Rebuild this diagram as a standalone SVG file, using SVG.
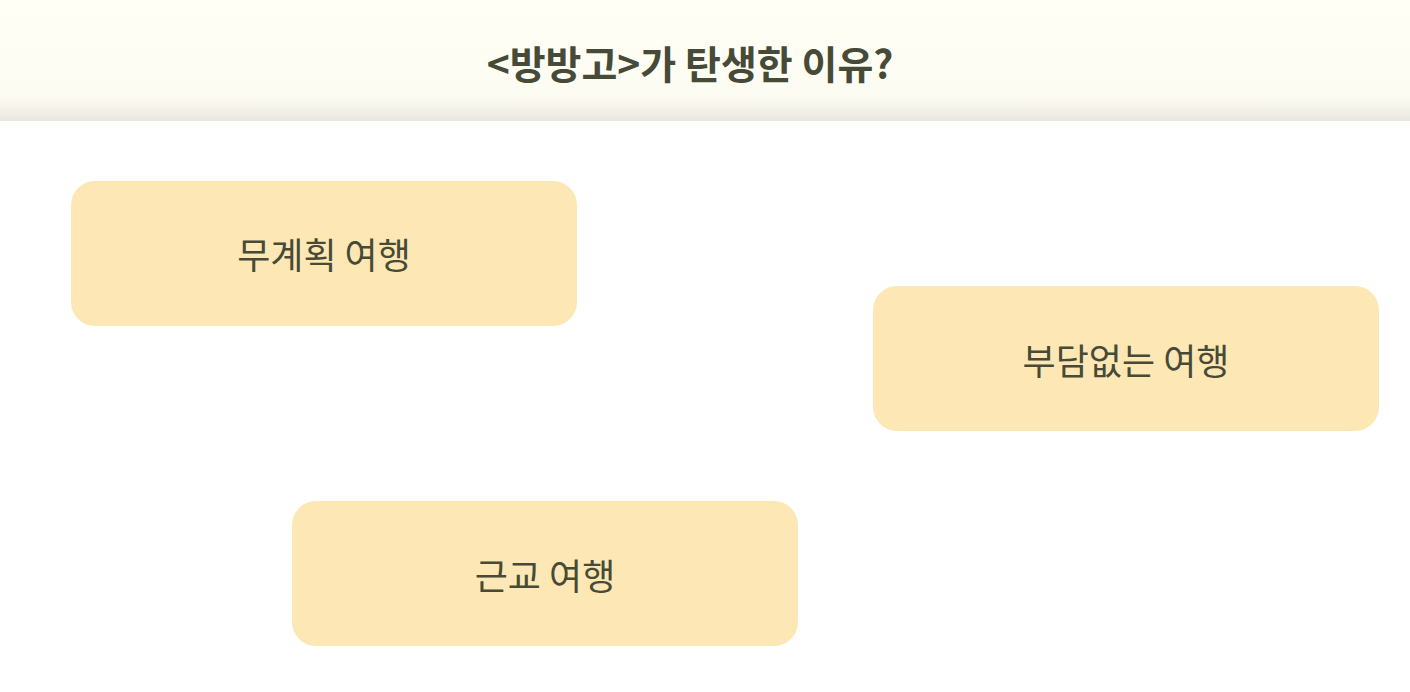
<svg xmlns="http://www.w3.org/2000/svg" width="1410" height="692" viewBox="0 0 1410 692">
<defs>
<linearGradient id="hdr" x1="0" y1="0" x2="0" y2="1">
<stop offset="0" stop-color="#fffff6"/>
<stop offset="0.8" stop-color="#fdfcf3"/>
<stop offset="1" stop-color="#e9e7e0"/>
</linearGradient>
<style>
.box{fill:#fde8b5}
.lbl{font-family:"Noto Sans CJK KR","Noto Sans",sans-serif;font-size:36px;font-weight:400;fill:#464a36;text-anchor:middle;dominant-baseline:central}
.ttl{font-family:"Noto Sans CJK KR","Noto Sans",sans-serif;font-size:39px;font-weight:700;fill:#464a36;text-anchor:middle;dominant-baseline:central}
</style>
</defs>
<rect x="0" y="0" width="1410" height="692" fill="#ffffff"/>
<g id="header">
<rect x="0" y="0" width="1410" height="121" fill="url(#hdr)"/>
<text class="ttl" x="690" y="62">&lt;방방고&gt;가 탄생한 이유?</text>
</g>
<g id="n1">
<rect class="box" x="71" y="181" width="506" height="145" rx="24"/>
<text class="lbl" x="324" y="253">무계획 여행</text>
</g>
<g id="n2">
<rect class="box" x="873" y="286" width="506" height="145" rx="24"/>
<text class="lbl" x="1126" y="359">부담없는 여행</text>
</g>
<g id="n3">
<rect class="box" x="292" y="501" width="506" height="145" rx="24"/>
<text class="lbl" x="545" y="574">근교 여행</text>
</g>
<g id="connectors"/>
</svg>
